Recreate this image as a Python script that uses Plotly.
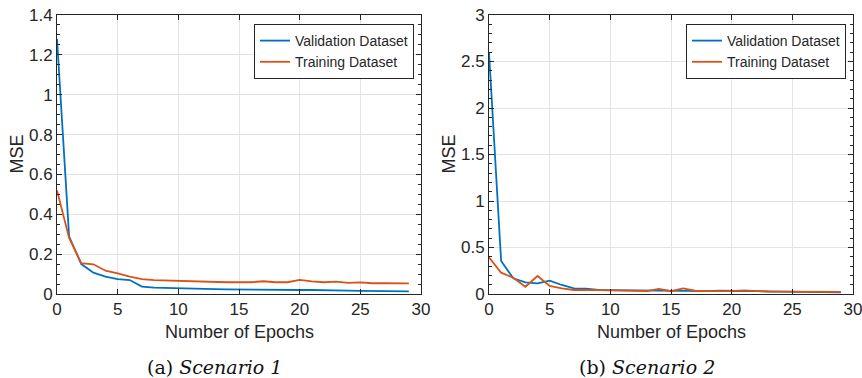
import plotly.graph_objects as go

# Training history for the two scenarios (MSE per epoch)
epochs = list(range(30))

s1_validation = [1.28, 0.288, 0.150, 0.107, 0.087, 0.075, 0.070, 0.037, 0.032, 0.030,
                 0.027, 0.026, 0.025, 0.024, 0.023, 0.022, 0.021, 0.021, 0.020, 0.020,
                 0.020, 0.020, 0.018, 0.017, 0.017, 0.016, 0.016, 0.016, 0.015, 0.013]
s1_training = [0.52, 0.281, 0.155, 0.149, 0.117, 0.104, 0.087, 0.075, 0.070, 0.068,
               0.066, 0.062, 0.061, 0.061, 0.059, 0.060, 0.059, 0.064, 0.059, 0.059,
               0.071, 0.063, 0.059, 0.062, 0.056, 0.058, 0.054, 0.055, 0.055, 0.053]

s2_validation = [2.60, 0.355, 0.169, 0.126, 0.115, 0.143, 0.097, 0.061, 0.058, 0.045,
                 0.042, 0.040, 0.038, 0.036, 0.035, 0.033, 0.034, 0.032, 0.030, 0.035,
                 0.030, 0.032, 0.030, 0.028, 0.025, 0.024, 0.022, 0.020, 0.020, 0.018]
s2_training = [0.395, 0.229, 0.175, 0.078, 0.194, 0.086, 0.061, 0.043, 0.045, 0.038,
               0.038, 0.036, 0.035, 0.032, 0.055, 0.030, 0.060, 0.035, 0.030, 0.028,
               0.030, 0.040, 0.030, 0.027, 0.025, 0.025, 0.024, 0.025, 0.030, 0.022]

x_ticks = [0, 5, 10, 15, 20, 25, 30]
s1_y_ticks = [0, 0.2, 0.4, 0.6, 0.8, 1, 1.2, 1.4]
s2_y_ticks = [0, 0.5, 1, 1.5, 2, 2.5, 3]
captions = ["(a) <i>Scenario 1</i>", "(b) <i>Scenario 2</i>"]

BLUE = "#0072BD"
ORANGE = "#D95319"
INK = "#262626"
SANS = "Liberation Sans, Arial, sans-serif"
W, H = 862, 378

fig = go.Figure()

panels = [
    ("x", "y", "legend", s1_validation, s1_training),
    ("x2", "y2", "legend2", s2_validation, s2_training),
]
for xa, ya, lg, val, trn in panels:
    fig.add_trace(go.Scatter(x=epochs, y=val, mode="lines", name="Validation Dataset",
                             line=dict(color=BLUE, width=1.8), xaxis=xa, yaxis=ya, legend=lg))
    fig.add_trace(go.Scatter(x=epochs, y=trn, mode="lines", name="Training Dataset",
                             line=dict(color=ORANGE, width=1.8), xaxis=xa, yaxis=ya, legend=lg))

def x_axis(domain, anchor):
    return dict(domain=domain, anchor=anchor, range=[0, 30], tickvals=x_ticks,
                ticks="inside", ticklen=5, tickcolor=INK, showline=True, linecolor=INK,
                linewidth=1, mirror="allticks", showgrid=True, gridcolor="#e3e3e3",
                gridwidth=1, zeroline=False, automargin=False, ticklabeloverflow="allow",
                tickfont=dict(family=SANS, size=17, color=INK))

def y_axis(rng, ticks, minor_step, anchor):
    return dict(domain=[1 - 294 / H, 1 - 15 / H], anchor=anchor, range=rng, tickvals=ticks,
                ticks="inside", ticklen=5, tickcolor=INK, showline=True, linecolor=INK,
                linewidth=1, mirror="allticks", showgrid=True, gridcolor="#e3e3e3",
                gridwidth=1, zeroline=False, automargin=False, ticklabeloverflow="allow",
                tickfont=dict(family=SANS, size=17, color=INK),
                minor=dict(ticks="inside", ticklen=3, tickcolor=INK, dtick=minor_step,
                           tick0=0, showgrid=False))

legend_style = dict(bgcolor="white", bordercolor=INK, borderwidth=1,
                    font=dict(family=SANS, size=14, color=INK),
                    xanchor="right", yanchor="top", tracegroupgap=0,
                    itemwidth=30)

fig.update_layout(
    width=W, height=H,
    margin=dict(l=0, r=0, t=0, b=0),
    paper_bgcolor="white", plot_bgcolor="white",
    xaxis=x_axis([57 / W, 421 / W], "y"),
    yaxis=y_axis([0, 1.4], s1_y_ticks, 0.05, "x"),
    xaxis2=x_axis([489 / W, 853 / W], "y2"),
    yaxis2=y_axis([0, 3], s2_y_ticks, 0.1, "x2"),
    legend=dict(x=414 / W, y=1 - 24 / H, **legend_style),
    legend2=dict(x=846 / W, y=1 - 24 / H, **legend_style),
)

label_font = dict(family=SANS, size=18, color=INK)
for cx in [239, 671]:
    fig.add_annotation(text="Number of Epochs", x=cx / W, y=1 - 332 / H, xref="paper",
                       yref="paper", xanchor="center", yanchor="middle", showarrow=False,
                       font=label_font)
for cx in [16, 448]:
    fig.add_annotation(text="MSE", x=cx / W, y=1 - 154.5 / H, xref="paper", yref="paper",
                       xanchor="center", yanchor="middle", showarrow=False, textangle=-90,
                       font=label_font)

for cx, text in zip([214, 647], captions):
    fig.add_annotation(text=text, x=cx / W, y=1 - 367 / H, xref="paper", yref="paper",
                       xanchor="center", yanchor="middle", showarrow=False,
                       font=dict(family="DejaVu Serif, Liberation Serif, serif", size=19,
                                 color="#111111"))

fig.write_html("out.html")
